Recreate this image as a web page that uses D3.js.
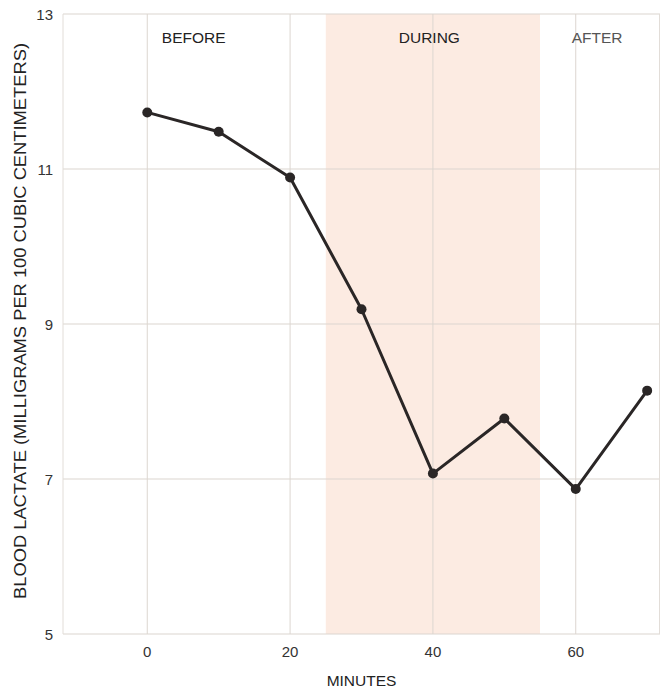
<!DOCTYPE html>
<html><head><meta charset="utf-8">
<script src="https://cdn.jsdelivr.net/npm/d3@7"></script>
<style>body{margin:0;background:#fff}svg{display:block}text{font-family:"Liberation Sans",Arial,sans-serif}</style>
</head><body><svg id="c" width="662" height="690"></svg>
<script>
const minutes = [0, 10, 20, 30, 40, 50, 60, 70];
const lactate = [11.73, 11.48, 10.89, 9.19, 7.07, 7.78, 6.87, 8.14];
const xTicks = [0, 20, 40, 60];
const yTicks = [5, 7, 9, 11, 13];
const phases = ["BEFORE", "DURING", "AFTER"];
const phaseCenters = [6.5, 39.5, 63];
const duringRange = [25, 55];

const svg = d3.select("#c");
const m = {l: 63, r: 2, t: 14, b: 56};
const W = 662, H = 690;
const x = d3.scaleLinear().domain([-11.8, 71.8]).range([m.l, W - m.r]);
const y = d3.scaleLinear().domain([5, 13]).range([H - m.b, m.t]);

svg.append("rect").attr("x", x(duringRange[0])).attr("y", y(13))
  .attr("width", x(duringRange[1]) - x(duringRange[0])).attr("height", y(5) - y(13))
  .attr("fill", "#fcebe2");

const g = svg.append("g");
g.selectAll(".vg").data(xTicks).join("line")
  .attr("x1", d => x(d)).attr("x2", d => x(d)).attr("y1", y(13)).attr("y2", y(5))
  .attr("stroke", "#dcd6d0").attr("stroke-width", 1);
g.selectAll(".hg").data(yTicks).join("line")
  .attr("x1", x.range()[0]).attr("x2", x.range()[1]).attr("y1", d => y(d)).attr("y2", d => y(d))
  .attr("stroke", "#dcd6d0").attr("stroke-width", 1.2);
g.append("line").attr("x1", x.range()[0]).attr("x2", x.range()[0]).attr("y1", y(13)).attr("y2", y(5))
  .attr("stroke", "#e2ddd8");
g.append("line").attr("x1", x.range()[1]-0.5).attr("x2", x.range()[1]-0.5).attr("y1", y(13)).attr("y2", y(5))
  .attr("stroke", "#e2ddd8");

svg.selectAll(".yt").data(yTicks).join("text")
  .attr("x", 53).attr("y", d => y(d) + 6).attr("text-anchor", "end")
  .attr("font-size", 15).attr("fill", "#333").text(d => d);
svg.selectAll(".xt").data(xTicks).join("text")
  .attr("x", d => x(d)).attr("y", 657).attr("text-anchor", "middle")
  .attr("font-size", 15).attr("fill", "#333").text(d => d);

svg.append("text").attr("x", x(30)).attr("y", 686).attr("text-anchor", "middle")
  .attr("font-size", 15.5).attr("fill", "#222").text("MINUTES");
svg.append("text").attr("transform", `translate(26,321) rotate(-90)`)
  .attr("text-anchor", "middle").attr("font-size", 16).attr("fill", "#222")
  .attr("textLength", 556).attr("lengthAdjust", "spacingAndGlyphs")
  .text("BLOOD LACTATE (MILLIGRAMS PER 100 CUBIC CENTIMETERS)");

svg.selectAll(".ph").data(phases).join("text")
  .attr("x", (d, i) => x(phaseCenters[i])).attr("y", 43).attr("text-anchor", "middle")
  .attr("font-size", 15.5).attr("fill", (d, i) => i === 2 ? "#555" : "#222").text(d => d);

const pts = minutes.map((d, i) => [d, lactate[i]]);
svg.append("path").datum(pts)
  .attr("d", d3.line().x(d => x(d[0])).y(d => y(d[1])))
  .attr("fill", "none").attr("stroke", "#2a2626").attr("stroke-width", 3).attr("stroke-linejoin", "round");
svg.selectAll(".pt").data(pts).join("circle")
  .attr("cx", d => x(d[0])).attr("cy", d => y(d[1])).attr("r", 5).attr("fill", "#2a2626");
</script></body></html>
